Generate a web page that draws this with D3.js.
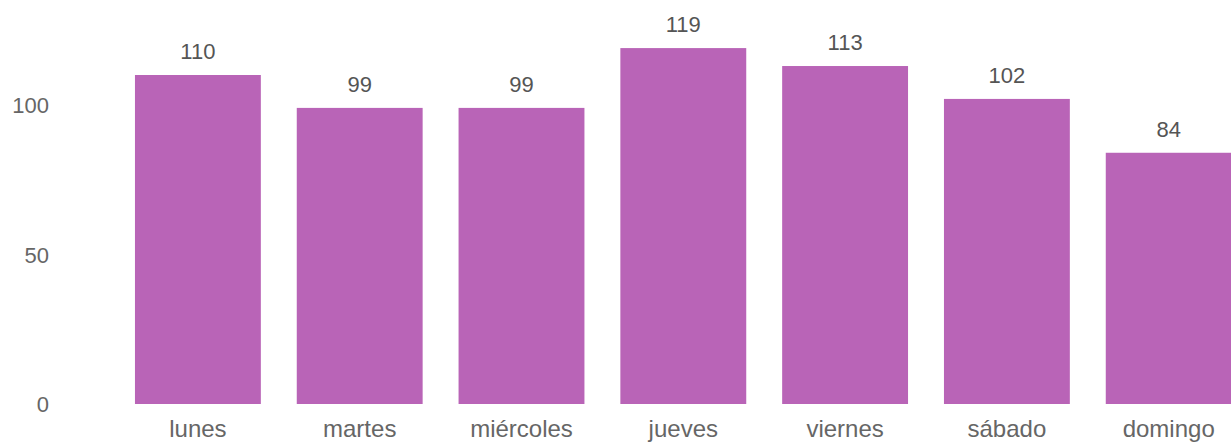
<!DOCTYPE html>
<html>
<head>
<meta charset="utf-8">
<script src="https://cdn.jsdelivr.net/npm/d3@7"></script>
<style>
    body { margin: 0; background: #ffffff; }
    svg text { font-family: "Segoe UI", "Liberation Sans", Arial, sans-serif; }
</style>
</head>
<body>
<div id="chart"></div>
<script>
// days of the week and their counts
var days = ["lunes", "martes", "miércoles", "jueves", "viernes", "sábado", "domingo"];
var counts = [110, 99, 99, 119, 113, 102, 84];
var yTicks = [0, 50, 100];

var width = 1231, height = 444;
var baseline = 404;

var svg = d3.select("#chart").append("svg")
    .attr("width", width)
    .attr("height", height);

// x scale for the bars
var x = d3.scaleBand()
    .domain(days)
    .range([117, 1249.6])
    .paddingInner(0.222)
    .paddingOuter(0.111);

// y scale
var y = d3.scaleLinear()
    .domain([0, 110])
    .range([baseline, 75]);

// y axis labels (no line)
var yAxis = svg.append("g")
    .attr("transform", "translate(49,0)")
    .call(d3.axisLeft(y).tickValues(yTicks).tickSize(0).tickPadding(0));
yAxis.select(".domain").remove();
yAxis.selectAll(".tick text")
    .attr("font-size", "22px")
    .attr("fill", "#666666")
    .attr("dy", "0.36em");

// x axis labels
var xAxis = svg.append("g")
    .attr("transform", "translate(0," + baseline + ")")
    .call(d3.axisBottom(x).tickSize(0).tickPadding(0));
xAxis.select(".domain").remove();
xAxis.selectAll(".tick text")
    .attr("font-size", "24px")
    .attr("fill", "#666666")
    .attr("y", 33)
    .attr("dy", 0);

// bars
svg.selectAll(".bar")
    .data(days)
    .join("rect")
    .attr("class", "bar")
    .attr("x", function(d) { return x(d); })
    .attr("width", x.bandwidth())
    .attr("y", function(d, i) { return y(counts[i]); })
    .attr("height", function(d, i) { return baseline - y(counts[i]); })
    .attr("fill", "#b964b7");

// value labels above bars
svg.selectAll(".value")
    .data(days)
    .join("text")
    .attr("class", "value")
    .attr("x", function(d) { return x(d) + x.bandwidth() / 2; })
    .attr("y", function(d, i) { return y(counts[i]) - 16; })
    .attr("text-anchor", "middle")
    .attr("font-size", "22px")
    .attr("fill", "#555555")
    .text(function(d, i) { return counts[i]; });
</script>
</body>
</html>
